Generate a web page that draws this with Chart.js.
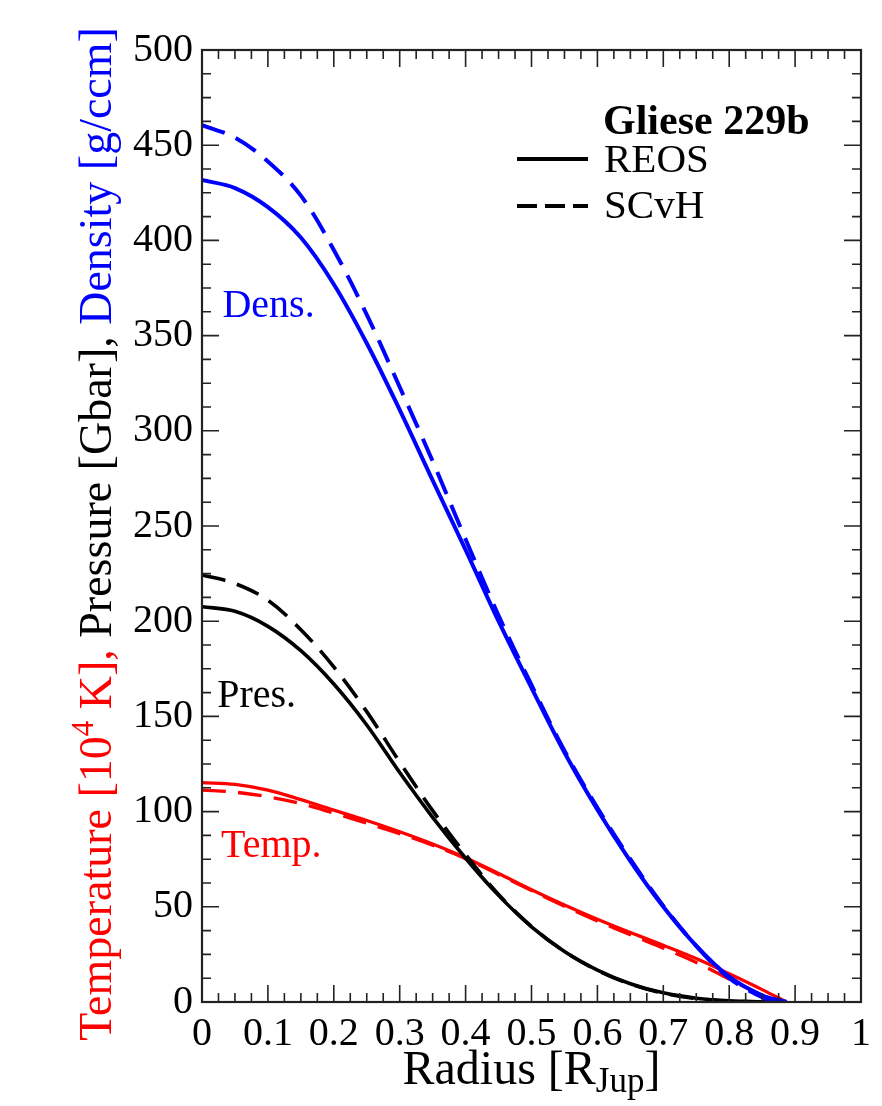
<!DOCTYPE html>
<html>
<head>
<meta charset="utf-8">
<script src="https://cdn.jsdelivr.net/npm/chart.js@4/dist/chart.umd.min.js"></script>
<style>
  html, body { margin: 0; padding: 0; background: #fff; }
  #wrap { width: 882px; height: 1106px; position: relative; }
</style>
</head>
<body>
<div id="wrap"><canvas id="c" width="882" height="1106"></canvas></div>
<script>
// Interior profiles of Gliese 229b for two hydrogen equations of state
const radiusREOS = [0, 0.05, 0.1, 0.15, 0.2, 0.25, 0.3, 0.35, 0.4, 0.45, 0.5, 0.55, 0.6, 0.65, 0.7, 0.75, 0.8, 0.85, 0.887];
const radiusSCvH = [0, 0.05, 0.1, 0.15, 0.2, 0.25, 0.3, 0.35, 0.4, 0.45, 0.5, 0.55, 0.6, 0.65, 0.7, 0.75, 0.8, 0.85, 0.872];

// density [g/ccm]
const densityREOS = [431.7, 427.5, 417.5, 401.5, 377, 346, 311, 274, 237.5, 200, 165, 131, 101, 74, 50, 29.5, 13.3, 3.5, 0];
const densitySCvH = [460.5, 454, 441.5, 423.5, 395, 361, 323, 284, 243, 203, 166.5, 132, 102, 75, 50.5, 29.5, 12.5, 2.5, 0];
// pressure [Gbar]
const pressureREOS = [207.6, 205.2, 197.3, 184.5, 167, 145.5, 120.5, 97, 75.5, 56, 39.5, 26.5, 16.8, 9.6, 4.8, 2, 0.6, 0.1, 0];
const pressureSCvH = [224.3, 219.8, 211, 195.5, 176, 152.5, 126, 100.5, 77.5, 56.5, 39.7, 26.6, 16.6, 9.4, 4.6, 1.8, 0.5, 0.05, 0];
// temperature [10^4 K]
const temperatureREOS = [115.2, 114.3, 111.3, 106.3, 100.8, 95.3, 89.4, 83, 75.8, 67.5, 59, 51, 43.5, 36.5, 29.8, 22.8, 14.8, 6.5, 0];
const temperatureSCvH = [111.3, 110.2, 107.8, 104.2, 99.2, 93.9, 88.4, 82.3, 75.3, 67, 58.5, 50.3, 42.6, 35.3, 28.3, 20.8, 12, 3.5, 0];

const xTickLabels = ['0', '0.1', '0.2', '0.3', '0.4', '0.5', '0.6', '0.7', '0.8', '0.9', '1'];
const yTickLabels = ['0', '50', '100', '150', '200', '250', '300', '350', '400', '450', '500'];

const curveLabels = [
  { text: 'Dens.', x: 0.031, y: 360, color: '#0000ff' },
  { text: 'Pres.', x: 0.023, y: 155, color: '#000000' },
  { text: 'Temp.', x: 0.029, y: 76, color: '#ff0000' }
];
const legendTitle = 'Gliese 229b';
const legendEntries = ['REOS', 'SCvH'];

const SERIF = "'Liberation Serif', 'Times New Roman', serif";
const BLUE = '#0000ff', RED = '#ff0000', BLACK = '#000000';
const DASH = [24, 12];

function pts(xs, ys) { return xs.map((r, i) => ({ x: r, y: ys[i] })); }
function series(xs, ys, color, dashed, width) {
  return {
    data: pts(xs, ys),
    borderColor: color,
    borderWidth: width,
    borderDash: dashed ? DASH : [],
    pointRadius: 0,
    fill: false,
    tension: 0.35
  };
}

// frame with inward ticks on all four sides
const frameTicks = {
  id: 'frameTicks',
  afterDatasetsDraw(chart) {
    const { ctx, chartArea: a, scales: { x, y } } = chart;
    ctx.save();
    ctx.strokeStyle = '#222';
    ctx.lineWidth = 1.6;
    ctx.beginPath();
    for (let i = 0; i <= 40; i++) {
      const px = x.getPixelForValue(i * 0.025);
      const len = i % 4 === 0 ? 17 : 9;
      ctx.moveTo(px, a.bottom); ctx.lineTo(px, a.bottom - len);
      ctx.moveTo(px, a.top); ctx.lineTo(px, a.top + len);
    }
    for (let i = 0; i <= 40; i++) {
      const py = y.getPixelForValue(i * 12.5);
      const len = i % 4 === 0 ? 17 : 9;
      ctx.moveTo(a.left, py); ctx.lineTo(a.left + len, py);
      ctx.moveTo(a.right, py); ctx.lineTo(a.right - len, py);
    }
    ctx.stroke();
    ctx.lineWidth = 2.2;
    ctx.strokeRect(a.left, a.top, a.right - a.left, a.bottom - a.top);
    ctx.restore();
  }
};

// axis titles, curve labels and legend
const annotations = {
  id: 'annotations',
  afterDraw(chart) {
    const { ctx, chartArea: a, scales: { x, y } } = chart;
    ctx.save();
    ctx.textBaseline = 'alphabetic';

    // curve labels
    ctx.font = '40px ' + SERIF;
    ctx.textAlign = 'left';
    curveLabels.forEach(l => {
      ctx.fillStyle = l.color;
      ctx.fillText(l.text, x.getPixelForValue(l.x), y.getPixelForValue(l.y));
    });

    // legend
    ctx.fillStyle = BLACK;
    ctx.font = 'bold 42px ' + SERIF;
    ctx.fillText(legendTitle, 603, 134);
    ctx.font = '41px ' + SERIF;
    ctx.fillText(legendEntries[0], 604, 172);
    ctx.fillText(legendEntries[1], 604, 218);
    ctx.strokeStyle = BLACK;
    ctx.lineWidth = 4;
    ctx.beginPath(); ctx.moveTo(517, 159); ctx.lineTo(588, 159); ctx.stroke();
    ctx.setLineDash([20, 8]);
    ctx.beginPath(); ctx.moveTo(517, 206); ctx.lineTo(588, 206); ctx.stroke();
    ctx.setLineDash([]);

    // x axis title with subscript
    const big = '48px ' + SERIF, small = '35px ' + SERIF;
    const xParts = [
      { t: 'Radius [R', f: big, dy: 0 },
      { t: 'Jup', f: small, dy: 8 },
      { t: ']', f: big, dy: 0 }
    ];
    let total = 0;
    xParts.forEach(p => { ctx.font = p.f; p.w = ctx.measureText(p.t).width; total += p.w; });
    let cx = (a.left + a.right) / 2 - total / 2;
    ctx.fillStyle = BLACK;
    xParts.forEach(p => { ctx.font = p.f; ctx.fillText(p.t, cx, 1084 + p.dy); cx += p.w; });

    // y axis title, rotated and coloured per quantity
    const yf = '46px ' + SERIF, ys = '31px ' + SERIF;
    const yParts = [
      { t: 'Temperature [10', f: yf, c: RED, dy: 0 },
      { t: '4', f: ys, c: RED, dy: -18 },
      { t: ' K], ', f: yf, c: RED, dy: 0 },
      { t: 'Pressure [Gbar], ', f: yf, c: BLACK, dy: 0 },
      { t: 'Density [g/ccm]', f: yf, c: BLUE, dy: 0 }
    ];
    total = 0;
    yParts.forEach(p => { ctx.font = p.f; p.w = ctx.measureText(p.t).width; total += p.w; });
    ctx.translate(111, 534);
    ctx.rotate(-Math.PI / 2);
    let tx = -total / 2;
    yParts.forEach(p => { ctx.font = p.f; ctx.fillStyle = p.c; ctx.fillText(p.t, tx, p.dy); tx += p.w; });
    ctx.restore();
  }
};

new Chart(document.getElementById('c'), {
  type: 'line',
  data: {
    datasets: [
      series(radiusREOS, densityREOS, BLUE, false, 4),
      series(radiusSCvH, densitySCvH, BLUE, true, 4),
      series(radiusREOS, pressureREOS, BLACK, false, 3.6),
      series(radiusSCvH, pressureSCvH, BLACK, true, 3.6),
      series(radiusREOS, temperatureREOS, RED, false, 3.3),
      series(radiusSCvH, temperatureSCvH, RED, true, 3.3)
    ]
  },
  options: {
    responsive: false,
    animation: false,
    layout: { padding: { left: 0, top: 50, right: 21, bottom: 0 } },
    plugins: { legend: { display: false }, tooltip: { enabled: false } },
    scales: {
      x: {
        type: 'linear', min: 0, max: 1,
        grid: { display: false, drawTicks: false },
        border: { display: false },
        ticks: {
          stepSize: 0.1, autoSkip: false, maxRotation: 0, padding: 8,
          color: BLACK, font: { family: SERIF, size: 40 },
          callback: (v, i) => xTickLabels[i]
        },
        afterFit(s) { s.height = 104; }
      },
      y: {
        min: 0, max: 500,
        grid: { display: false, drawTicks: false },
        border: { display: false },
        ticks: {
          stepSize: 50, autoSkip: false, padding: 9,
          color: BLACK, font: { family: SERIF, size: 40 },
          callback: (v, i) => yTickLabels[i]
        },
        afterFit(s) { s.width = 202; }
      }
    }
  },
  plugins: [frameTicks, annotations]
});
</script>
</body>
</html>
